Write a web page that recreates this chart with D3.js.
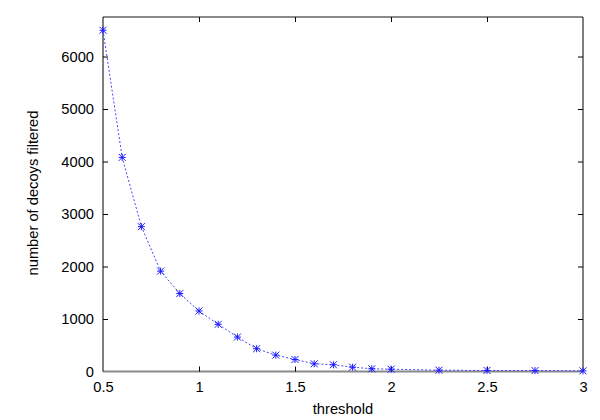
<!DOCTYPE html>
<html><head><meta charset="utf-8">
<script src="https://cdn.jsdelivr.net/npm/d3@7"></script>
<style>body{margin:0;background:#fff}svg{display:block}text{font-family:"Liberation Sans",Arial,sans-serif}</style>
</head><body>
<svg id="c" width="600" height="420"></svg>
<script>
const thresholds = [0.5,0.6,0.7,0.8,0.9,1.0,1.1,1.2,1.3,1.4,1.5,1.6,1.7,1.8,1.9,2.0,2.25,2.5,2.75,3.0];
const decoys = [6500,4078,2759,1912,1485,1153,899,656,434,312,229,147,128,82,52,44,25,20,18,12];
const xTicks = [0.5,1,1.5,2,2.5,3];
const yTicks = [0,1000,2000,3000,4000,5000,6000];
const xLabel = "threshold";
const yLabel = "number of decoys filtered";

const svg = d3.select("#c");
const L=103, R=583, T=17, B=371.5;
const x = d3.scaleLinear().domain([0.5,3]).range([L,R]);
const y = d3.scaleLinear().domain([0,6753]).range([B,T]);
const FS = 14.7;

// borders
svg.append("line").attr("x1",L).attr("x2",R).attr("y1",T).attr("y2",T).attr("stroke","#8a8a8a").attr("stroke-width",2);
svg.append("line").attr("x1",L).attr("x2",R).attr("y1",B).attr("y2",B).attr("stroke","#8a8a8a").attr("stroke-width",2);
svg.append("line").attr("x1",L).attr("x2",L).attr("y1",T).attr("y2",B).attr("stroke","#000").attr("stroke-width",1);
svg.append("line").attr("x1",R).attr("x2",R).attr("y1",T).attr("y2",B).attr("stroke","#000").attr("stroke-width",1);

// axes
const fmtX = d => String(d);
const gB = svg.append("g").attr("transform",`translate(0,${B})`)
  .call(d3.axisBottom(x).tickValues(xTicks).tickSizeInner(-5).tickSizeOuter(0).tickPadding(10).tickFormat(fmtX));
const gTop = svg.append("g").attr("transform",`translate(0,${T})`)
  .call(d3.axisTop(x).tickValues(xTicks).tickSizeInner(-5).tickSizeOuter(0).tickFormat(""));
const gL = svg.append("g").attr("transform",`translate(${L},0)`)
  .call(d3.axisLeft(y).tickValues(yTicks).tickSizeInner(-5).tickSizeOuter(0).tickPadding(9).tickFormat(d3.format("d")));
const gR = svg.append("g").attr("transform",`translate(${R},0)`)
  .call(d3.axisRight(y).tickValues(yTicks).tickSizeInner(-5).tickSizeOuter(0).tickFormat(""));
[gB,gTop,gL,gR].forEach(g=>{
  g.select(".domain").remove();
  g.selectAll(".tick line").attr("stroke","#000").attr("stroke-width",1);
  g.selectAll("text").attr("font-size",FS).attr("fill","#000").attr("font-family","Liberation Sans, Arial, sans-serif");
});
gB.selectAll(".tick").filter(d=>d===0.5||d===3).select("line").remove();
gTop.selectAll(".tick").filter(d=>d===0.5||d===3).select("line").remove();
gL.selectAll(".tick").filter(d=>d===0).select("line").remove();
gR.selectAll(".tick").filter(d=>d===0).select("line").remove();

// axis labels
svg.append("text").attr("x",(L+R)/2).attr("y",414).attr("text-anchor","middle")
  .attr("font-size",FS).text(xLabel);
svg.append("text").attr("transform","translate(37.5,193) rotate(-90)").attr("text-anchor","middle")
  .attr("font-size",FS).text(yLabel);

// data
const pts = thresholds.map((t,i)=>[t,decoys[i]]);
svg.append("path").datum(pts)
  .attr("d", d3.line().x(d=>x(d[0])).y(d=>y(d[1])))
  .attr("fill","none").attr("stroke","#4444ff").attr("stroke-width",1).attr("stroke-dasharray","2,2");
const s=3.5;
const mk = svg.append("g").selectAll("g").data(pts).join("g")
  .attr("transform",d=>`translate(${x(d[0])},${y(d[1])})`)
  .attr("stroke","#1a1aff").attr("stroke-width",1);
mk.append("line").attr("x1",-s).attr("x2",s).attr("y1",0).attr("y2",0);
mk.append("line").attr("x1",0).attr("x2",0).attr("y1",-s).attr("y2",s);
mk.append("line").attr("x1",-s).attr("x2",s).attr("y1",-s).attr("y2",s);
mk.append("line").attr("x1",-s).attr("x2",s).attr("y1",s).attr("y2",-s);
</script>
</body></html>
